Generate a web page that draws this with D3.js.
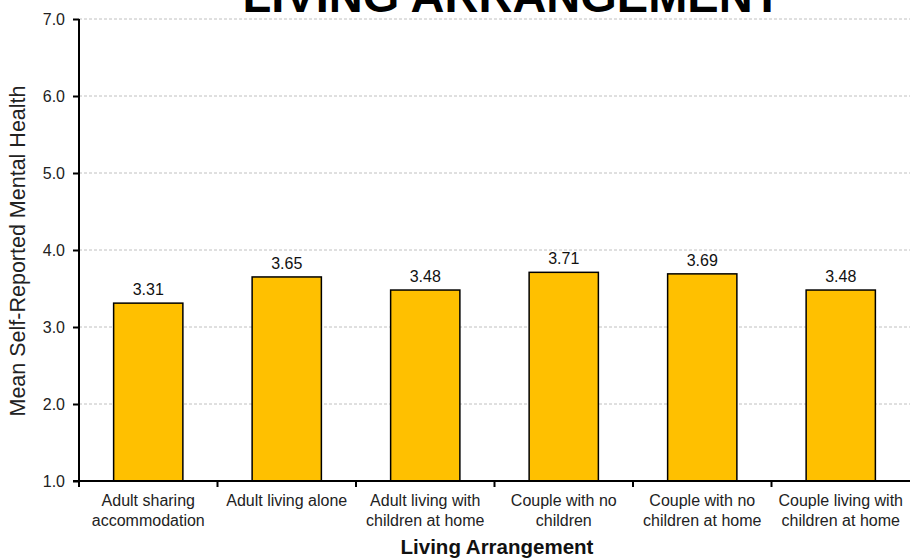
<!DOCTYPE html>
<html><head><meta charset="utf-8">
<script src="https://cdn.jsdelivr.net/npm/d3@7"></script>
<style>body{margin:0;background:#fff;}svg{display:block;font-family:Arial,"Liberation Sans",sans-serif;}</style>
</head><body><svg id="c" width="910" height="559"></svg>
<script>
const categories = [["Adult sharing","accommodation"],["Adult living alone"],["Adult living with","children at home"],["Couple with no","children"],["Couple with no","children at home"],["Couple living with","children at home"]];
const values = [3.31,3.65,3.48,3.71,3.69,3.48];
const yTicks = [1,2,3,4,5,6,7];

const svg = d3.select("#c");
const m = {l:79, r:910, t:19, b:481};
const x = d3.scaleBand().domain(d3.range(categories.length)).range([m.l,m.r]).paddingInner(0).paddingOuter(0);
const y = d3.scaleLinear().domain([1,7]).range([m.b,m.t]);

// gridlines
svg.append("g").selectAll("line").data(yTicks.slice(1)).join("line")
  .attr("x1",m.l).attr("x2",m.r).attr("y1",d=>y(d)).attr("y2",d=>y(d))
  .attr("stroke","#c0c0c0").attr("stroke-dasharray","3,2").attr("stroke-width",1);

// bars
const bw = x.bandwidth()*0.5;
svg.append("g").selectAll("rect").data(values).join("rect")
  .attr("x",(d,i)=>x(i)+x.bandwidth()/2-bw/2).attr("width",bw)
  .attr("y",d=>y(d)).attr("height",d=>y(1)-y(d))
  .attr("fill","#FFC000").attr("stroke","#000").attr("stroke-width",1.5);

// value labels
svg.append("g").selectAll("text").data(values).join("text")
  .attr("x",(d,i)=>x(i)+x.bandwidth()/2).attr("y",d=>y(d)-8)
  .attr("text-anchor","middle").attr("font-size",16).attr("fill","#111")
  .text(d=>d.toFixed(2));

// y axis
const ya = svg.append("g").attr("transform",`translate(${m.l},0)`)
  .call(d3.axisLeft(y).tickValues(yTicks).tickFormat(d3.format(".1f")).tickSize(6).tickPadding(8));
ya.select(".domain").attr("stroke","#000").attr("stroke-width",2).attr("d",`M0,${m.t}V${m.b}`);
ya.selectAll(".tick line").attr("stroke","#000").attr("stroke-width",2);
ya.selectAll("text").attr("font-size",16).attr("fill","#222").attr("font-family","Arial, 'Liberation Sans', sans-serif");

// x axis
const xa = svg.append("g").attr("transform",`translate(0,${m.b})`);
xa.append("line").attr("x1",m.l-6).attr("x2",m.r).attr("y1",0).attr("y2",0).attr("stroke","#000").attr("stroke-width",2);
xa.selectAll("line.t").data(d3.range(categories.length)).join("line").attr("class","t")
  .attr("x1",d=>x(d)).attr("x2",d=>x(d)).attr("y1",0).attr("y2",6).attr("stroke","#000").attr("stroke-width",2);
const lab = xa.selectAll("text").data(categories).join("text")
  .attr("text-anchor","middle").attr("font-size",16).attr("fill","#222")
  .attr("transform",(d,i)=>`translate(${x(i)+x.bandwidth()/2},25)`);
lab.selectAll("tspan").data(d=>d).join("tspan").attr("x",0).attr("dy",(d,i)=>i?20:0).text(d=>d);

// axis titles
svg.append("text").attr("x",497).attr("y",554).attr("text-anchor","middle")
  .attr("font-size",20.5).attr("font-weight","bold").attr("fill","#111").text("Living Arrangement");
svg.append("text").attr("transform",`translate(25,251) rotate(-90)`).attr("text-anchor","middle")
  .attr("font-size",21.5).attr("fill","#222").text("Mean Self-Reported Mental Health");

// title
svg.append("text").attr("x",512).attr("y",12).attr("text-anchor","middle")
  .attr("font-size",47).attr("font-weight","bold").attr("fill","#000").text("LIVING ARRANGEMENT");
</script></body></html>
